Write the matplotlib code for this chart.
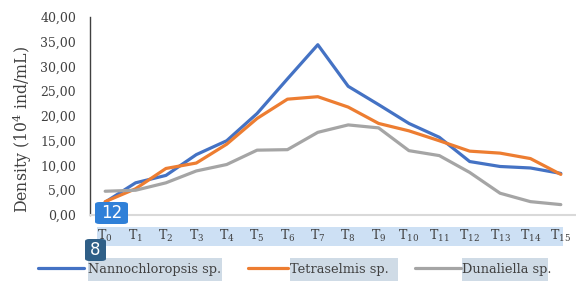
import matplotlib
matplotlib.use("Agg")
import matplotlib.pyplot as plt
from matplotlib.patches import FancyBboxPatch, Rectangle
from matplotlib.lines import Line2D
import numpy as np

categories = [f"T{i}" for i in range(16)]
tick_labels = [r"$\mathrm{T}_{%d}$" % i for i in range(16)]
nanno = [2.6, 6.5, 8.0, 12.2, 15.0, 20.5, 27.5, 34.4, 26.0, 22.3, 18.5, 15.7, 10.8, 9.8, 9.5, 8.4]
tetra = [2.7, 5.3, 9.4, 10.5, 14.3, 19.5, 23.4, 23.9, 21.8, 18.5, 17.0, 15.0, 12.9, 12.5, 11.4, 8.2]
duna = [4.8, 5.0, 6.5, 8.9, 10.2, 13.1, 13.2, 16.7, 18.2, 17.6, 13.0, 12.0, 8.6, 4.4, 2.7, 2.1]
series_names = ["Nannochloropsis sp.", "Tetraselmis sp.", "Dunaliella sp."]
colors = ["#4472c4", "#ed7d31", "#a5a5a5"]
yticks = np.arange(0, 41, 5)

plt.rcParams["font.family"] = ["DejaVu Serif"]
plt.rcParams["mathtext.fontset"] = "dejavuserif"

W, H = 576, 282
fig = plt.figure(figsize=(W / 100, H / 100), dpi=100)

def fx(px):
    return px / W

def fy(py):
    return 1 - py / H

ax = fig.add_axes([fx(90), fy(215), fx(576) - fx(90), fy(17) - fy(215)])
ax.set_zorder(1)
x = np.arange(len(categories))
for vals, c in zip([nanno, tetra, duna], colors):
    ax.plot(x, vals, color=c, lw=2.3, solid_joinstyle="round", solid_capstyle="round", zorder=3)

ax.set_xlim(-0.5, 15.5)
ax.set_ylim(0, 40)
ax.set_yticks(yticks)
ax.set_yticklabels([f"{v:.2f}".replace(".", ",") for v in yticks], fontsize=9, color="#404040")
ax.set_xticks(x)
ax.set_xticklabels(tick_labels, fontsize=9, color="#404040")
ax.tick_params(axis="both", length=0)
ax.tick_params(axis="y", pad=10)
ax.tick_params(axis="x", pad=9.5)
for s in ["top", "right"]:
    ax.spines[s].set_visible(False)
ax.spines["left"].set_color("#404040")
ax.spines["left"].set_linewidth(1.0)
ax.spines["bottom"].set_color("#d9d9d9")
ax.spines["bottom"].set_linewidth(1.5)
ax.patch.set_alpha(0)

fig.text(fx(22), fy(129), "Density (10$^4$ ind/mL)", rotation=90, ha="center", va="center",
         fontsize=11.3, color="#404040")

# tick label band
fig.patches.append(Rectangle((fx(97), fy(246)), fx(563) - fx(97), fy(227) - fy(246),
                             transform=fig.transFigure, facecolor="#cde0f4", edgecolor="none", zorder=-1))

# legend
leg_y = 268
leg_items = [(38, 84, 88, 222), (248, 288, 290, 398), (415, 461, 462, 548)]
for (l0, l1, t0, t1), name, c in zip(leg_items, series_names, colors):
    fig.lines.append(Line2D([fx(l0), fx(l1)], [fy(leg_y), fy(leg_y)], transform=fig.transFigure,
                            color=c, lw=2.3, solid_capstyle="round"))
    fig.patches.append(Rectangle((fx(t0), fy(281)), fx(t1) - fx(t0), fy(258) - fy(281),
                                 transform=fig.transFigure, facecolor="#cfdbe6", edgecolor="none", zorder=-1))
    fig.text(fx(t0), fy(leg_y + 1), name, ha="left", va="center", fontsize=9.3, color="#404040")

# badges
def badge(x0, y0, x1, y1, color, label):
    p = FancyBboxPatch((fx(x0), fy(y1)), fx(x1) - fx(x0), fy(y0) - fy(y1),
                       boxstyle="round,pad=0,rounding_size=0.008", transform=fig.transFigure,
                       facecolor=color, edgecolor="none", zorder=10)
    fig.patches.append(p)
    fig.text(fx((x0 + x1) / 2), fy((y0 + y1) / 2), label, ha="center", va="center",
             fontsize=12, color="white", family="DejaVu Sans", zorder=11)

badge(95, 202, 128, 224, "#2f80d8", "12")
badge(85, 239, 106, 261, "#2f5f87", "8")

fig.savefig("out.png", dpi=100)
